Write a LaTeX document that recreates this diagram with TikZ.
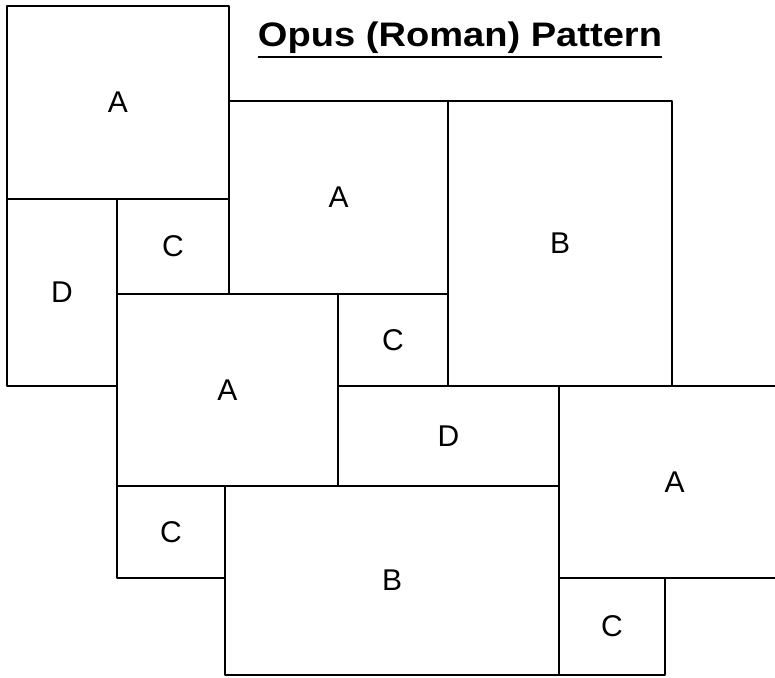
\documentclass[tikz,border=0pt]{standalone}
\usepackage{fontspec}
\setmainfont{Liberation Sans}

\begin{document}
\begin{tikzpicture}[
  x=1pt, y=-1pt,
  tile/.style={rectangle, draw=black, line width=2.8pt, line join=round, fill=white,
    inner sep=0pt, outer sep=0pt, font=\fontsize{30}{33}\selectfont},
  heading/.style={font=\bfseries\fontsize{34}{37}\selectfont, xscale=1.12, inner sep=0pt}
]
  \useasboundingbox (0,0) rectangle (775,677);
  \clip (0,0) rectangle (775,677);
  \fill[white] (0,0) rectangle (775,677);

  % top rows
  \node[tile, minimum width=222, minimum height=193] (a1) at (118,102.5) {A};
  \node[tile, minimum width=110, minimum height=187] (d1) at (62,292.5) {D};
  \node[tile, minimum width=112, minimum height=95] (c1) at (173,246.5) {C};
  \node[tile, minimum width=219, minimum height=193] (a2) at (338.5,197.5) {A};
  \node[tile, minimum width=224, minimum height=285] (b1) at (560,243.5) {B};

  % middle rows
  \node[tile, minimum width=221, minimum height=192] (a3) at (227.5,390) {A};
  \node[tile, minimum width=110, minimum height=92] (c2) at (393,340) {C};
  \node[tile, minimum width=221, minimum height=100] (d2) at (448.5,436) {D};
  \node[tile, minimum width=231, minimum height=192] (a4) at (674.5,482) {A};

  % bottom rows
  \node[tile, minimum width=108, minimum height=92] (c3) at (171,532) {C};
  \node[tile, minimum width=334, minimum height=189] (b2) at (392,580.5) {B};
  \node[tile, minimum width=106, minimum height=97] (c4) at (612,626.5) {C};

  \node[heading] (title) at (460,38) {Opus (Roman) Pattern};
  \draw[line width=2.6pt] ([yshift=-3pt]title.south west) -- ([yshift=-3pt]title.south east);
\end{tikzpicture}
\end{document}
